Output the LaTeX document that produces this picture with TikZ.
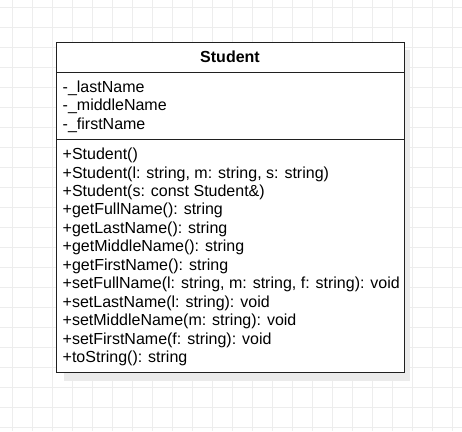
\documentclass[tikz,border=0pt]{standalone}
\usepackage{fontspec}
\setmainfont{Liberation Sans}
\definecolor{gridc}{HTML}{EDEDED}
\definecolor{shadowc}{HTML}{EBEBEB}
\definecolor{borderc}{HTML}{202020}
\begin{document}
\begin{tikzpicture}[x=1pt,y=-1pt,
  textline/.style={font=\fontsize{16}{18}\selectfont, anchor=base west, inner sep=0pt},
  titleline/.style={font=\fontsize{16}{18}\selectfont\bfseries, anchor=base, inner sep=0pt},
  gridline/.style={draw=gridc, line width=0.9pt},
  sepline/.style={draw=borderc, line width=1pt}]
\useasboundingbox (0,0) rectangle (462,431);
\fill[white] (0,0) rectangle (462,431);
% grid
\foreach \i in {0,...,22} \draw[gridline] ({12+20*\i},0) -- ({12+20*\i},431);
\foreach \j in {0,...,21} \draw[gridline] (0,{7+20*\j}) -- (462,{7+20*\j});
% shadow
\fill[shadowc] (64,50) rectangle (410,381);
% class box
\coordinate (tl) at (56,42);
\coordinate (br) at (404,372);
\coordinate (s1l) at (56,72.7);
\coordinate (s1r) at (404,72.7);
\coordinate (s2l) at (56,139.3);
\coordinate (s2r) at (404,139.3);
\draw[sepline, fill=white] (tl) rectangle (br);
\draw[sepline] (s1l) -- (s1r);
\draw[sepline] (s2l) -- (s2r);
% title
\node[titleline] (title) at (230,62.5) {Student};
% attributes
\node[textline] (a1) at (62.5,92.3) {-\_lastName};
\node[textline] (a2) at (62.5,110.8) {-\_middleName};
\node[textline] (a3) at (62.5,129.3) {-\_firstName};
% methods
\foreach \t [count=\k from 0] in {
  {+Student()},
  {+Student(l: string, m: string, s: string)},
  {+Student(s: const Student\&)},
  {+getFullName(): string},
  {+getLastName(): string},
  {+getMiddleName(): string},
  {+getFirstName(): string},
  {+setFullName(l: string, m: string, f: string): void},
  {+setLastName(l: string): void},
  {+setMiddleName(m: string): void},
  {+setFirstName(f: string): void},
  {+toString(): string}}
  \node[textline] (m\k) at (62.5,{159.6+18.45*\k}) {\t};
\end{tikzpicture}
\end{document}
